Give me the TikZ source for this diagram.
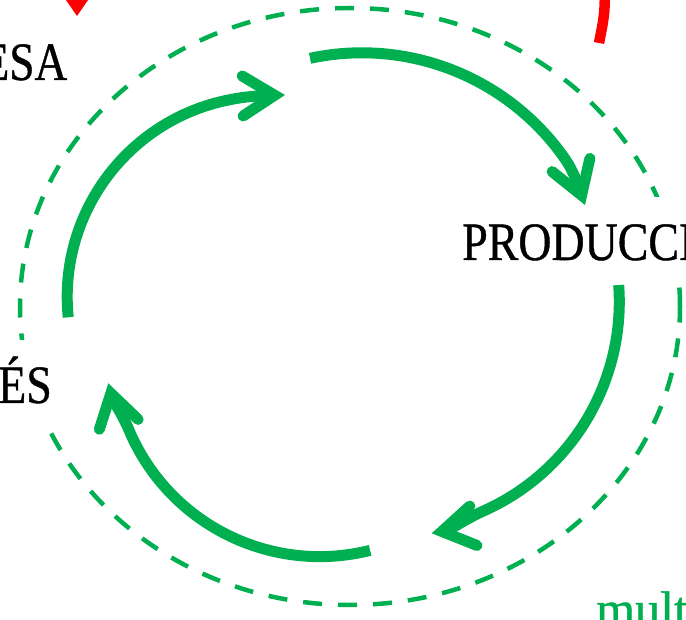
\documentclass[tikz,border=0pt]{standalone}
\usepackage{fontspec}
\setmainfont{Liberation Serif}
\newfontface\labfont{Liberation Serif}[FakeBold=0.8]
\usetikzlibrary{arrows.meta,calc}
\definecolor{ogreen}{RGB}{0,176,80}
\definecolor{ored}{RGB}{255,0,0}
\tikzset{
  cyc/.style={draw=ogreen, line width=11pt, -{Straight Barb[length=32pt,width=40pt,line cap=round,line join=miter]}},
  ring/.style={draw=ogreen, line width=4.5pt, dash pattern=on 19pt off 16pt},
  lab/.style={font=\labfont\fontsize{54}{60}\selectfont, inner sep=0pt, text=black},
  maskedlab/.style={lab, fill=white, inner xsep=4pt, inner ysep=0pt, text height=63pt, text depth=20pt},
  greenlab/.style={font=\labfont\fontsize{50}{56}\selectfont, inner sep=0pt, text=ogreen},
}
\begin{document}
\begin{tikzpicture}[x=1pt,y=-1pt]
\useasboundingbox (0,0) rectangle (686,620);
\clip (0,0) rectangle (686,620);
% centres of the four cycle arcs
\coordinate (c1) at (268.2,297);
\coordinate (c2) at (361.9,300.3);
\coordinate (c3) at (390.3,301.8);
\coordinate (c4) at (319.7,349.6);
% dashed ring
\draw[ring] (350,306.5) ellipse [x radius=330pt, y radius=298.5pt];
% labels
\node[lab, anchor=base east] (esa) at (67.5,80) {\scalebox{0.84}[1]{ESA}};
\node[maskedlab, anchor=base east] (es) at (56,403) {\scalebox{0.85}[1]{ÉS}};
\node[maskedlab, anchor=base west] (prod) at (458,260) {\scalebox{0.85}[1]{PRODUCCI}};
\node[greenlab, anchor=base west] (mult) at (596,626) {mult};
% cycle arrows
\draw[cyc] ($(c1)+(174.2:201)$) arc[start angle=174.2, end angle=260, radius=201]
  .. controls (250,95.8) and (268,95.4) .. (285,95);
\draw[cyc] ($(c2)+(257.9:247.5)$) arc[start angle=257.9, end angle=325, radius=247.5]
  .. controls (574.4,172.2) and (579.4,189) .. (585,205);
\draw[cyc] ($(c3)+(-4.2:229)$) arc[start angle=-4.2, end angle=66, radius=229]
  .. controls (466.9,518.3) and (449.4,530.1) .. (431.7,533.3);
\draw[cyc] ($(c4)+(75.9:207)$) arc[start angle=75.9, end angle=157, radius=207]
  .. controls (122.6,414.8) and (112.5,399.8) .. (108.3,383.3);
% red fragments
\fill[ored] (62.5,-5) -- (91.5,-5) -- (77,16) -- cycle;
\draw[ored, line width=10.5pt] (605,-10) .. controls (604.5,15) .. (599,43);
\end{tikzpicture}
\end{document}
